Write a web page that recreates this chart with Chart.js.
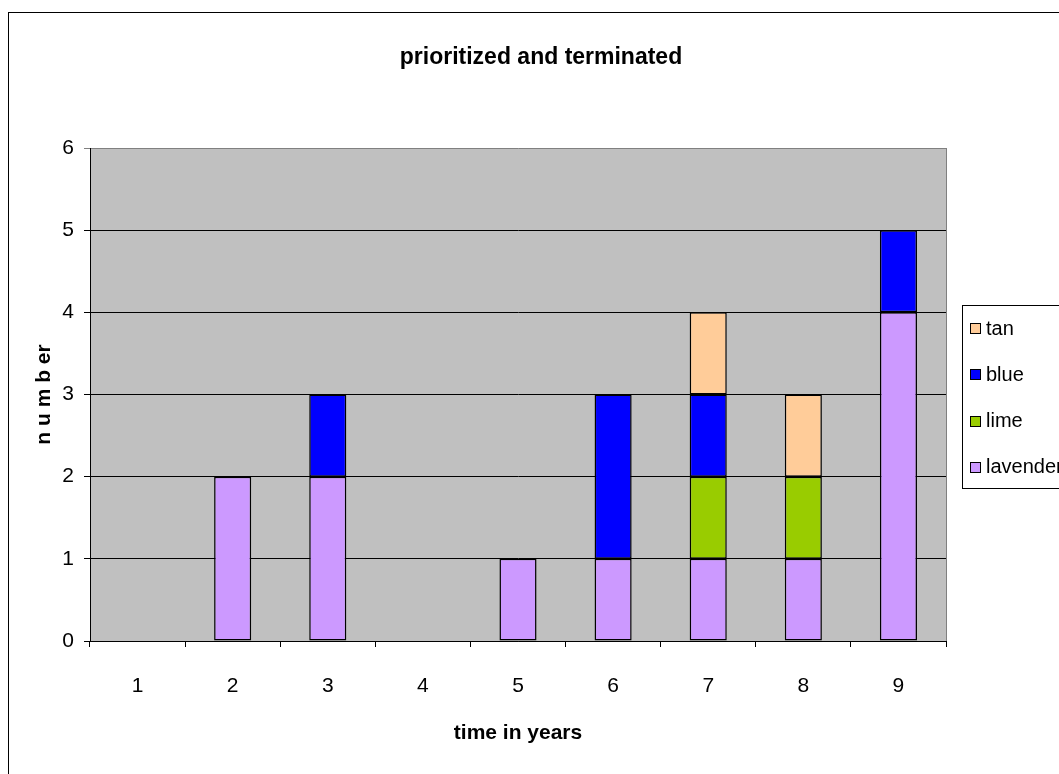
<!DOCTYPE html>
<html>
<head>
<meta charset="utf-8">
<style>
  html, body { margin: 0; padding: 0; background: #ffffff; }
  #wrap { width: 1059px; height: 774px; }
</style>
<script src="https://cdn.jsdelivr.net/npm/chart.js@4/dist/chart.umd.min.js"></script>
</head>
<body>
<div id="wrap"><canvas id="chart" width="1059" height="774"></canvas></div>
<script>
// Years on the horizontal axis
const years = ['1', '2', '3', '4', '5', '6', '7', '8', '9'];

// Stacked counts per year, bottom to top
const lavender = [0, 2, 2, 0, 1, 1, 1, 1, 4];
const lime     = [0, 0, 0, 0, 0, 0, 1, 1, 0];
const blue     = [0, 0, 1, 0, 0, 2, 1, 0, 1];
const tan      = [0, 0, 0, 0, 0, 0, 1, 1, 0];

const yTicks = [0, 1, 2, 3, 4, 5, 6];

const FONT = '"Liberation Sans", Arial, sans-serif';

const series = [
  { label: 'lavender', data: lavender, color: '#CC99FF' },
  { label: 'lime',     data: lime,     color: '#99CC00' },
  { label: 'blue',     data: blue,     color: '#0000FF' },
  { label: 'tan',      data: tan,      color: '#FFCC99' }
];

// Plot background, outer frame
const backdrop = {
  id: 'backdrop',
  beforeDraw(chart) {
    const { ctx, chartArea: a } = chart;
    ctx.save();
    ctx.fillStyle = '#ffffff';
    ctx.fillRect(0, 0, chart.width, chart.height);
    ctx.strokeStyle = '#000000';
    ctx.lineWidth = 1;
    ctx.strokeRect(8.5, 12.5, chart.width + 20, chart.height + 20);
    ctx.fillStyle = '#C0C0C0';
    ctx.fillRect(a.left, a.top, a.right - a.left, a.bottom - a.top);
    ctx.restore();
  }
};

// Right edge of the plot, chart title and the boxed legend
const decorations = {
  id: 'decorations',
  afterDraw(chart) {
    const { ctx, chartArea: a } = chart;
    ctx.save();
    ctx.strokeStyle = '#808080';
    ctx.lineWidth = 1;
    ctx.beginPath();
    ctx.moveTo(Math.round(a.right) + 0.5, a.top);
    ctx.lineTo(Math.round(a.right) + 0.5, a.bottom);
    ctx.stroke();

    ctx.fillStyle = '#000000';
    ctx.font = 'bold 23px ' + FONT;
    ctx.textAlign = 'center';
    ctx.textBaseline = 'alphabetic';
    ctx.fillText('prioritized and terminated', 541, 64);

    // legend box
    ctx.strokeStyle = '#000000';
    ctx.strokeRect(962.5, 305.5, 120, 183);
    const items = chart.data.datasets.slice().reverse();
    ctx.font = '20px ' + FONT;
    ctx.textAlign = 'left';
    ctx.textBaseline = 'middle';
    items.forEach((ds, i) => {
      const cy = 328 + i * 46.3;
      ctx.fillStyle = ds.backgroundColor;
      ctx.fillRect(970, Math.round(cy - 5), 10, 10);
      ctx.strokeStyle = '#000000';
      ctx.strokeRect(970.5, Math.round(cy - 5) + 0.5, 10, 10);
      ctx.fillStyle = '#000000';
      ctx.fillText(ds.label, 986, cy + 1);
    });
    ctx.restore();
  }
};

new Chart(document.getElementById('chart'), {
  type: 'bar',
  data: {
    labels: years,
    datasets: series.map(s => ({
      label: s.label,
      data: s.data,
      backgroundColor: s.color,
      borderColor: '#000000',
      borderWidth: 1.5,
      borderSkipped: false,
      barPercentage: 0.39,
      categoryPercentage: 1.0
    }))
  },
  options: {
    responsive: false,
    animation: false,
    devicePixelRatio: 1,
    layout: { padding: { top: 148, right: 113, left: 0, bottom: 0 } },
    plugins: {
      legend: { display: false },
      title: { display: false },
      tooltip: { enabled: false }
    },
    scales: {
      x: {
        stacked: true,
        afterFit(scale) { scale.height = 133; },
        grid: {
          offset: true,
          drawOnChartArea: false,
          drawTicks: true,
          tickLength: 6,
          color: '#000000'
        },
        border: { color: '#000000', width: 1 },
        ticks: {
          color: '#000000',
          font: { family: FONT, size: 21 },
          padding: 27,
          maxRotation: 0
        },
        title: {
          display: true,
          text: 'time in years',
          color: '#000000',
          font: { family: FONT, size: 21, weight: 'bold' },
          padding: { top: 0, bottom: 28 }
        }
      },
      y: {
        stacked: true,
        min: yTicks[0],
        max: yTicks[yTicks.length - 1],
        afterFit(scale) { scale.width = 90; },
        afterBuildTicks(scale) { scale.ticks = yTicks.map(v => ({ value: v })); },
        grid: {
          color: ctx => (ctx.tick && ctx.tick.value === 6 ? '#808080' : '#000000'),
          lineWidth: 1,
          tickLength: 6,
          drawTicks: true
        },
        border: { color: '#000000', width: 1 },
        ticks: {
          color: '#000000',
          font: { family: FONT, size: 21 },
          padding: 10
        },
        title: {
          display: true,
          text: 'n u m b er',
          color: '#000000',
          font: { family: FONT, size: 21, weight: 'bold' },
          padding: { top: 32, bottom: 0 }
        }
      }
    }
  },
  plugins: [backdrop, decorations]
});
</script>
</body>
</html>
